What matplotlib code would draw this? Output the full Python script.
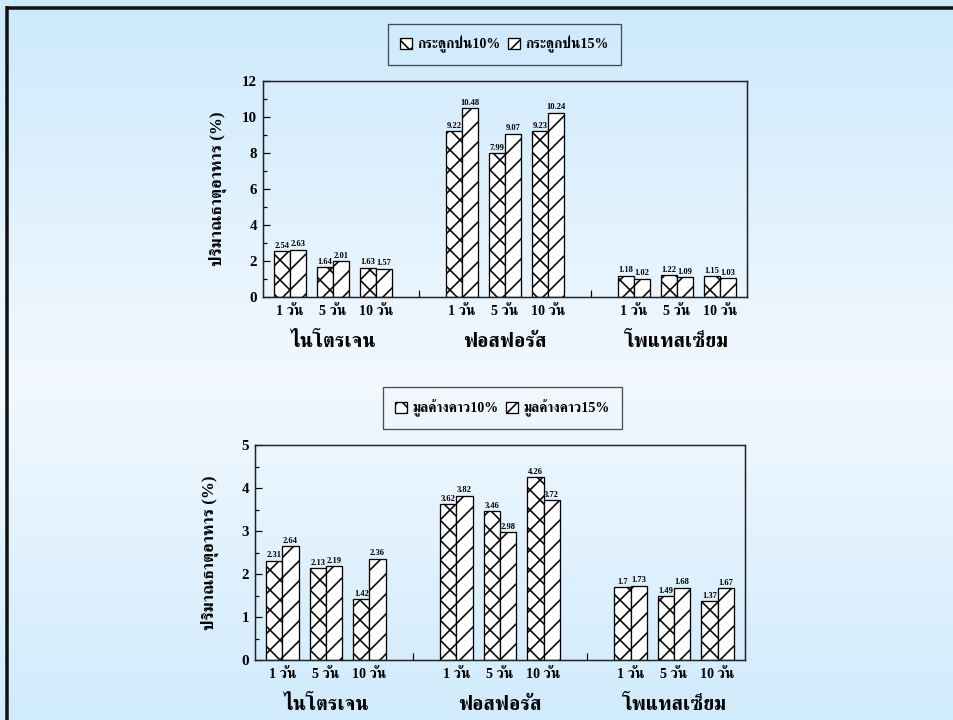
import numpy as np
import matplotlib
matplotlib.use("Agg")
import matplotlib.pyplot as plt
from matplotlib import font_manager
from matplotlib.ft2font import FT2Font
from matplotlib.patches import Patch
from matplotlib.lines import Line2D

# data
days = ["1 วัน", "5 วัน", "10 วัน"]
nutrients = ["ไนโตรเจน", "ฟอสฟอรัส", "โพแทสเซียม"]
ylabel = "ปริมาณธาตุอาหาร (%)"

bone_labels = ["กระดูกป่น10%", "กระดูกป่น15%"]
bone_10 = [2.54, 1.64, 1.63, 9.22, 7.99, 9.23, 1.18, 1.22, 1.15]
bone_15 = [2.63, 2.01, 1.57, 10.48, 9.07, 10.24, 1.02, 1.09, 1.03]

bat_labels = ["มูลค้างคาว10%", "มูลค้างคาว15%"]
bat_10 = [2.31, 2.13, 1.42, 3.62, 3.46, 4.26, 1.7, 1.49, 1.37]
bat_15 = [2.64, 2.19, 2.36, 3.82, 2.98, 3.72, 1.73, 1.68, 1.67]

# find a font with thai glyphs
thai_font = None
cands = []
for f in font_manager.fontManager.ttflist:
    try:
        if 0x0E01 in FT2Font(f.fname).get_charmap():
            score = 0
            if "serif" in f.name.lower() and "sans" not in f.name.lower():
                score += 2
            if f.weight in ("bold", 700) or "Bold" in f.fname:
                score += 1
            cands.append((score, f.name))
    except Exception:
        pass
if cands:
    cands.sort(reverse=True)
    thai_font = cands[0][1]
fams = ["Liberation Serif"] + ([thai_font] if thai_font else []) + ["DejaVu Sans"]
plt.rcParams["font.family"] = fams
plt.rcParams["font.weight"] = "bold"

DPI = 120
S = 72 / DPI  # pixel sizes -> points
plt.rcParams["hatch.linewidth"] = 1.6 * S
HATCH_10 = "xx"
HATCH_15 = "//"

W, H = 953, 720
fig = plt.figure(figsize=(W / DPI, H / DPI), dpi=DPI)

# background gradient
bg = fig.add_axes([0, 0, 1, 1], zorder=-10)
yy = np.linspace(0, 1, 300)
top = np.array([0.80, 0.915, 0.99])
mid = np.array([0.95, 0.975, 1.0])
t = np.clip(1 - np.abs(yy - 0.53) / 0.53, 0, 1)
grad = (top[None, :] * (1 - t[:, None]) + mid[None, :] * t[:, None])[:, None, :]
bg.imshow(grad, aspect="auto", extent=[0, 1, 0, 1], origin="upper")
bg.set_axis_off()
fig.add_artist(Line2D([6 / W, 1], [1 - 8 / H, 1 - 8 / H], color="#111111",
                      lw=3.5 * S, solid_capstyle="butt"))
fig.add_artist(Line2D([7 / W, 7 / W], [0, 1 - 6 / H], color="#111111",
                      lw=3.5 * S, solid_capstyle="butt"))

pos = [4 * g + p for g in range(3) for p in range(3)]
w = 0.37


def panel(rect, v10, v15, labels, ymax, major, minor, leg_rect, ylab_x):
    ax = fig.add_axes(rect)
    ax.patch.set_alpha(0)
    x = np.array(pos, dtype=float)
    ax.bar(x - w / 2, v10, w, facecolor="white", edgecolor="black", hatch=HATCH_10, lw=1.3 * S)
    ax.bar(x + w / 2, v15, w, facecolor="white", edgecolor="black", hatch=HATCH_15, lw=1.3 * S)
    for xi, a, b in zip(x, v10, v15):
        ax.text(xi - w / 2, a + ymax * 0.006, f"{a:g}", ha="center", va="bottom", fontsize=8.5 * S)
        ax.text(xi + w / 2, b + ymax * 0.006, f"{b:g}", ha="center", va="bottom", fontsize=8.5 * S)
    ax.set_xlim(-0.63, 10.63)
    ax.set_ylim(0, ymax)
    ax.set_yticks(np.arange(0, ymax + 0.01, major))
    ax.set_yticks(np.arange(0, ymax + 0.01, minor), minor=True)
    ax.set_yticklabels([f"{v:g}" for v in np.arange(0, ymax + 0.01, major)], fontsize=15 * S)
    ax.set_xticks(pos)
    ax.set_xticklabels(days * 3, fontsize=14 * S)
    ax.set_xticks([3, 7], minor=True)
    ax.tick_params(axis="x", which="major", length=0, pad=8 * S)
    ax.tick_params(axis="x", which="minor", direction="in", length=7 * S, width=1.2 * S)
    ax.tick_params(axis="y", which="major", direction="in", length=7 * S, width=1.2 * S, pad=6 * S)
    ax.tick_params(axis="y", which="minor", direction="in", length=4 * S, width=1.2 * S)
    for s in ax.spines.values():
        s.set_linewidth(1.5 * S)
        s.set_color("#222222")
    for g, name in enumerate(nutrients):
        ax.text(4 * g + 1, -0.21, name, transform=ax.get_xaxis_transform(),
                ha="center", va="center", fontsize=20 * S)
    fig.text(ylab_x / W, rect[1] + rect[3] / 2, ylabel, rotation=90,
             ha="center", va="center", fontsize=17 * S)
    handles = [Patch(facecolor="white", edgecolor="black", hatch=HATCH_10, lw=1.3 * S),
               Patch(facecolor="white", edgecolor="black", hatch=HATCH_15, lw=1.3 * S)]
    lx0, ly0, lx1, ly1 = leg_rect
    leg = fig.legend(handles, labels, ncol=2, loc="center",
                     bbox_to_anchor=((lx0 + lx1) / 2 / W, 1 - (ly0 + ly1) / 2 / H),
                     fontsize=14 * S, handlelength=0.85, handleheight=0.85, handletextpad=0.4,
                     columnspacing=0.5, borderpad=0.85, fancybox=False, frameon=True,
                     edgecolor="#222222", facecolor="none")
    leg.get_frame().set_linewidth(1.3 * S)
    return ax


panel([263 / W, 1 - 297 / H, 484 / W, 216 / H], bone_10, bone_15, bone_labels,
      12, 2, 1, (392, 25, 617, 64), 218)
panel([255 / W, 1 - 660 / H, 490 / W, 215 / H], bat_10, bat_15, bat_labels,
      5, 1, 0.5, (388, 388, 617, 428), 210)

fig.savefig("out.png", dpi=DPI)
